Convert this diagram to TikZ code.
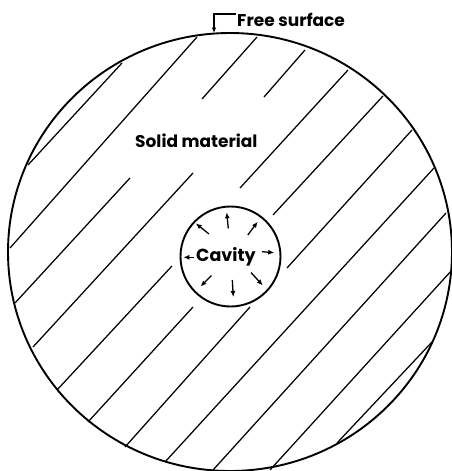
\documentclass[tikz,border=0pt]{standalone}
\usepackage{fontspec}
\setmainfont{Poppins}
\usetikzlibrary{arrows.meta,shapes.geometric}
\begin{document}
\begin{tikzpicture}[x=1pt,y=-1pt,
  hatch/.style={line width=1.25pt},
  rim/.style={draw,line width=1.9pt,inner sep=0pt},
  push/.style={line width=1.3pt,-{Latex[length=6pt,width=5pt]}},
  lbl/.style={font=\bfseries\fontsize{17}{17}\selectfont,inner sep=0pt,anchor=base west}]
\useasboundingbox (0,0) rectangle (452,471);
% outer body
\node[ellipse,rim,minimum width=444pt,minimum height=438pt] (outer) at (230,252) {};
% hatching
\draw[hatch] (28,165) -- (122,63);
\draw[hatch] (10,248) -- (197,37);
\draw[hatch] (202,99) -- (257,37);
\draw[hatch] (264,97) -- (305,50);
\draw[hatch] (240,188) -- (348,70);
\draw[hatch] (273,215) -- (383,96);
\draw[hatch] (287,268) -- (412,130);
\draw[hatch] (165,462) -- (434,168);
\draw[hatch] (15,303) -- (130,178);
\draw[hatch] (33,347) -- (193,173);
\draw[hatch] (57,390) -- (172,266);
\draw[hatch] (88,422) -- (193,307);
\draw[hatch] (125,447) -- (250,307);
\draw[hatch] (213,470) -- (446,213);
\draw[hatch] (270,470) -- (452,270);
\draw[hatch] (337,443) -- (432,342);
% cavity
\node[circle,rim,fill=white,minimum size=100pt] (cav) at (230.5,256.5) {};
\node[lbl,font=\bfseries\fontsize{17.5}{17.5}\selectfont] (cavtxt) at (196,261) {Cavity};
% pressure arrows
\coordinate (t1) at (228.3,228.5); \coordinate (h1) at (226.7,212.3);
\coordinate (t2) at (209,234);     \coordinate (h2) at (195.7,223.3);
\coordinate (t3) at (247.8,235);   \coordinate (h3) at (257.7,221.7);
\coordinate (t4) at (194,257.3);   \coordinate (h4) at (183.3,257.3);
\coordinate (t5) at (262,251.7);   \coordinate (h5) at (274.3,252.7);
\coordinate (t6) at (211.5,275.5); \coordinate (h6) at (200.5,286.5);
\coordinate (t7) at (232.3,280);   \coordinate (h7) at (233.3,297);
\coordinate (t8) at (251,272.5);   \coordinate (h8) at (262.8,285.5);
\foreach \i in {1,...,8} \draw[push] (t\i) -- (h\i);
% labels
\node[lbl] (solid) at (135,147.7) {Solid material};
\node[lbl] (free) at (237,26) {Free surface};
\coordinate (lead) at (236,14);
\coordinate (fs) at (214,33);
\draw[line width=1.3pt,-{Latex[length=5.5pt,width=4.5pt]}] (lead) -| (fs);
\end{tikzpicture}
\end{document}
